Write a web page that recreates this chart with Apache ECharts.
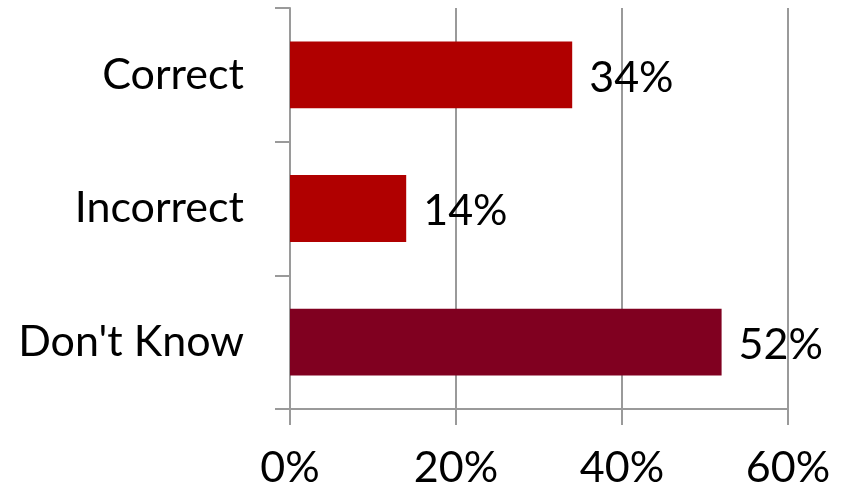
<!DOCTYPE html>
<html>
<head>
<meta charset="utf-8">
<script src="https://cdn.jsdelivr.net/npm/echarts@6/dist/echarts.min.js"></script>
<style>
  html, body { margin: 0; padding: 0; background: #fff; }
  #chart { width: 845px; height: 493px; }
</style>
</head>
<body>
<div id="chart"></div>
<script>
// Survey answers, share of respondents (%)
const categories = ['Correct', 'Incorrect', "Don't Know"];
const values = [34, 14, 52];
const barColors = ['#B00000', '#B00000', '#800020'];
const xTicks = [0, 20, 40, 60];

const FONT = 'Lato, "Open Sans", sans-serif';
const FONT_SIZE = 43;
const GRAY = '#9a9a9a';

const chart = echarts.init(document.getElementById('chart'));
chart.setOption({
  animation: false,
  grid: { left: 290, right: 57, top: 8, bottom: 84, containLabel: false },
  xAxis: {
    type: 'value',
    min: xTicks[0],
    max: xTicks[xTicks.length - 1],
    interval: xTicks[1] - xTicks[0],
    axisLine: { show: true, lineStyle: { color: GRAY, width: 2 } },
    axisTick: { show: true, length: 16, lineStyle: { color: GRAY, width: 2 } },
    splitLine: { show: true, lineStyle: { color: GRAY, width: 2 } },
    axisLabel: {
      formatter: v => v + '%',
      color: '#000',
      fontFamily: FONT,
      fontSize: FONT_SIZE,
      margin: 38
    }
  },
  yAxis: {
    type: 'category',
    data: categories,
    inverse: true,
    axisLine: { show: true, lineStyle: { color: GRAY, width: 2 } },
    axisTick: { show: true, length: 15, lineStyle: { color: GRAY, width: 2 } },
    splitLine: { show: false },
    axisLabel: {
      color: '#000',
      fontFamily: FONT,
      fontSize: FONT_SIZE,
      margin: 46
    }
  },
  series: [{
    type: 'bar',
    barWidth: '50%',
    data: values.map((v, i) => ({ value: v, itemStyle: { color: barColors[i] } })),
    label: {
      show: true,
      position: 'right',
      distance: 17,
      offset: [0, 3],
      formatter: p => p.value + '%',
      color: '#000',
      fontFamily: FONT,
      fontSize: FONT_SIZE
    },
    z: 3
  }]
});
</script>
</body>
</html>
